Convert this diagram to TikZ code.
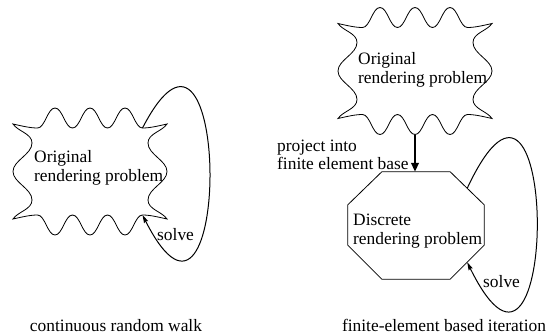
\documentclass[tikz,border=0pt]{standalone}
\usepackage{fontspec}
\setmainfont{Liberation Serif}
\newfontfamily\labelfont{Liberation Serif}
\usetikzlibrary{arrows.meta,calc}

\tikzset{
  outline/.style={draw=black,line width=0.8pt},
  loopline/.style={draw=black,line width=1pt,-{Stealth[length=8pt,width=4.5pt,inset=1pt]}},
  mainarrow/.style={draw=black,line width=2.4pt,-{Triangle[length=9pt,width=7.5pt]}},
  lbl/.style={inner sep=0pt,anchor=base west,font=\labelfont\fontsize{17.4pt}{20pt}\selectfont},
  caption/.style={inner sep=0pt,anchor=base,font=\labelfont\fontsize{17.4pt}{20pt}\selectfont},
  wavy cloud/.pic={
    \draw[outline] (-77,-47.5)
      .. controls (-68,-45.5) and (-60,-43.5) .. (-52.5,-43.5)
      .. controls (-45,-43.5) and (-42.5,-63.5) .. (-35,-63.5)
      .. controls (-27.5,-63.5) and (-25,-43.5) .. (-17.5,-43.5)
      .. controls (-10,-43.5) and (-7.5,-63.5) .. (0,-63.5)
      .. controls (7.5,-63.5) and (10,-43.5) .. (17.5,-43.5)
      .. controls (25,-43.5) and (27.5,-63.5) .. (35,-63.5)
      .. controls (42.5,-63.5) and (45,-43.5) .. (52.5,-43.5)
      .. controls (60,-43.5) and (68,-45.5) .. (77,-47.5)
      .. controls (72,-40) and (58,-38) .. (58,-28.5)
      .. controls (58,-17) and (77,-11) .. (77,0)
      .. controls (77,11) and (58,17) .. (58,28.5)
      .. controls (58,38) and (72,40) .. (77,47.5)
      .. controls (68,45.5) and (60,43.5) .. (52.5,43.5)
      .. controls (45,43.5) and (42.5,63.5) .. (35,63.5)
      .. controls (27.5,63.5) and (25,43.5) .. (17.5,43.5)
      .. controls (10,43.5) and (7.5,63.5) .. (0,63.5)
      .. controls (-7.5,63.5) and (-10,43.5) .. (-17.5,43.5)
      .. controls (-25,43.5) and (-27.5,63.5) .. (-35,63.5)
      .. controls (-42.5,63.5) and (-45,43.5) .. (-52.5,43.5)
      .. controls (-60,43.5) and (-68,45.5) .. (-77,47.5)
      .. controls (-72,40) and (-58,38) .. (-58,28.5)
      .. controls (-58,17) and (-77,11) .. (-77,0)
      .. controls (-77,-11) and (-58,-17) .. (-58,-28.5)
      .. controls (-58,-38) and (-72,-40) .. (-77,-47.5)
      -- cycle;
    \coordinate (-tr) at (52.5,-43.5);
    \coordinate (-br) at (52.5,43.5);
    \coordinate (-s) at (0,63.5);
  }
}

\begin{document}
\begin{tikzpicture}[x=1pt,y=-1pt]
  \useasboundingbox (0,0) rectangle (547,335);

  % left: continuous random walk
  \pic (L) at (90,171.5) {wavy cloud};
  \node[lbl] (Lorig) at (34,162) {Original};
  \node[lbl] (Lrend) at (34,181) {rendering problem};
  \draw[loopline] (L-tr) .. controls +(89.5,-173) and +(89.5,176) .. (L-br);
  \node[lbl] (Lsolve) at (157,240) {solve};
  \node[caption] (Lcap) at (116,331) {continuous random walk};

  % right: finite-element based iteration
  \pic (R) at (415,71) {wavy cloud};
  \node[lbl] (Rorig) at (358,64) {Original};
  \node[lbl] (Rrend) at (358,83) {rendering problem};

  \node[minimum width=136pt,minimum height=107pt,inner sep=0pt] (oct) at (416,225.5) {};
  \draw[outline] ($(oct.north west)+(34,0)$) -- ($(oct.north east)+(-34,0)$)
    -- ($(oct.north east)+(0,33)$) -- ($(oct.south east)+(0,-34)$)
    -- ($(oct.south east)+(-34,0)$) -- ($(oct.south west)+(34,0)$)
    -- ($(oct.south west)+(0,-34)$) -- ($(oct.north west)+(0,33)$) -- cycle;
  \coordinate (oct-ur) at ($(oct.north east)+(-17,16.5)$);
  \coordinate (oct-lr) at ($(oct.south east)+(-17,-17)$);
  \node[lbl] (Ddisc) at (353,225) {Discrete};
  \node[lbl] (Drend) at (353,244) {rendering problem};

  \draw[mainarrow] (R-s) -- (R-s |- oct.north);
  \node[lbl] (Pa) at (277,151) {project into};
  \node[lbl] (Pb) at (277,169) {finite element base};

  \draw[loopline] (oct-ur) .. controls +(93,-198.5) and +(93,189) .. (oct-lr);
  \node[lbl] (Rsolve) at (483,287) {solve};
  \node[caption] (Rcap) at (444,331) {finite-element based iteration};
\end{tikzpicture}
\end{document}
